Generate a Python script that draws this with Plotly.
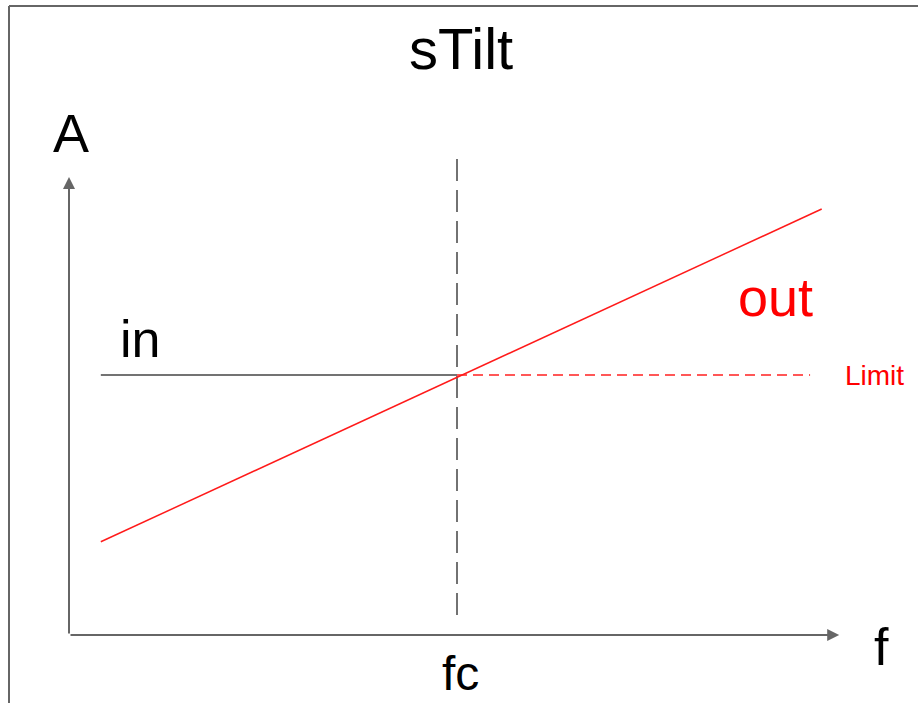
import plotly.graph_objects as go

# ---- data (schematic units: f horizontal, A vertical) ----
fc = 10.0
a_in = 6.5
f_out = [0.82, 19.4]
a_out = [2.33, 10.65]
f_in = [0.82, fc]
a_in_line = [a_in, a_in]
f_limit = [fc, 19.1]
a_limit = [a_in, a_in]
fc_line_a = [0.5, 11.95]
x_axis_end = 19.85
y_axis_end = 11.45

labels = {
    "A": (0.05, 12.55),
    "f": (20.95, -0.3),
    "fc": (10.1, -0.95),
    "in": (1.83, 7.4),
    "out": (18.22, 8.45),
    "Limit": (20.75, 6.48),
}

FONT = "Liberation Sans, Arial, sans-serif"

fig = go.Figure()

# dashed vertical line at fc
fig.add_trace(go.Scatter(x=[fc, fc], y=fc_line_a, mode="lines",
                         line=dict(color="#444444", width=1.5, dash="22px,9px"),
                         hoverinfo="skip"))
# input level
fig.add_trace(go.Scatter(x=f_in, y=a_in_line, mode="lines",
                         line=dict(color="#444444", width=1.5), hoverinfo="skip"))
# limit dashed
fig.add_trace(go.Scatter(x=f_limit, y=a_limit, mode="lines",
                         line=dict(color="#ff2020", width=1.5, dash="10px,6px"),
                         hoverinfo="skip"))
# output tilt line
fig.add_trace(go.Scatter(x=f_out, y=a_out, mode="lines",
                         line=dict(color="#ff1a1a", width=1.5), hoverinfo="skip"))

annotations = []
# axis arrows
annotations.append(dict(x=x_axis_end, y=0, ax=0, ay=0, xref="x", yref="y",
                        axref="x", ayref="y", text="", showarrow=True,
                        arrowhead=2, arrowsize=1.2, arrowwidth=2, arrowcolor="#666666"))
annotations.append(dict(x=0, y=y_axis_end, ax=0, ay=0, xref="x", yref="y",
                        axref="x", ayref="y", text="", showarrow=True,
                        arrowhead=2, arrowsize=1.2, arrowwidth=2, arrowcolor="#666666"))

styles = {
    "A": dict(size=54, color="black"),
    "f": dict(size=52, color="black"),
    "fc": dict(size=48, color="black"),
    "in": dict(size=52, color="black"),
    "out": dict(size=54, color="#ff0000"),
    "Limit": dict(size=28, color="#ff0000"),
}
for k, (x, y) in labels.items():
    annotations.append(dict(x=x, y=y, xref="x", yref="y", text=k, showarrow=False,
                            xanchor="center", yanchor="middle",
                            font=dict(family=FONT, **styles[k])))

# title
annotations.append(dict(x=461 / 918, y=1 - 48 / 703, xref="paper", yref="paper",
                        text="sTilt", showarrow=False, xanchor="center", yanchor="middle",
                        font=dict(family=FONT, size=58, color="black")))

fig.update_layout(
    width=918, height=703,
    margin=dict(l=0, r=0, t=0, b=0),
    paper_bgcolor="white", plot_bgcolor="white",
    showlegend=False,
    xaxis=dict(range=[-69 / 38.8, 849 / 38.8], visible=False, fixedrange=True),
    yaxis=dict(range=[-68 / 40, 635 / 40], visible=False, fixedrange=True),
    annotations=annotations,
    shapes=[
        dict(type="line", xref="paper", yref="paper", x0=9 / 918, x1=9 / 918,
             y0=0, y1=1 - 6 / 703, line=dict(color="#666666", width=2)),
        dict(type="line", xref="paper", yref="paper", x0=9 / 918, x1=1,
             y0=1 - 6 / 703, y1=1 - 6 / 703, line=dict(color="#666666", width=2)),
    ],
)

fig.write_html(
    "out.html",
    config={"displayModeBar": False},
    post_script="document.body.style.margin='0';document.body.style.overflow='hidden';",
)
